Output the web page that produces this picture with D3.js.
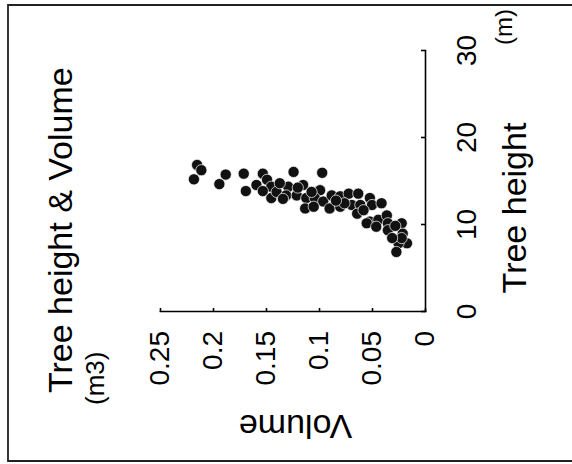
<!DOCTYPE html>
<html lang="en">
<head>
    <meta charset="UTF-8">
    <title>Tree height & Volume</title>
    <script src="https://d3js.org/d3.v7.min.js" charset="utf-8"></script>
    <style>
        body { margin: 0; background: #fff; }
        svg { font-family: 'Liberation Sans', Arial, sans-serif; }
        .axis path, .axis line { stroke: #000; stroke-width: 1.6; }
        .axis text { font-size: 28px; fill: #000; }
    </style>
</head>
<body>
    <div id="chart"></div>
    <script>
    // tree height (m) and volume (m3)
    var heights = [16.9, 16.3, 15.25, 15.8, 14.7, 15.9, 13.9, 15.9, 14.6, 15.2,
                   14.4, 13.1, 13.8, 16.1, 16.0, 14.4, 13.4, 14.6, 13.4, 13.1,
                   11.9, 14.0, 13.1, 12.7, 13.4, 11.9, 13.3, 12.1, 13.6, 13.6,
                   12.3, 12.3, 11.3, 13.1, 12.3, 12.5, 10.4, 10.6, 11.1, 10.2,
                   9.4, 10.2, 9.0, 7.9, 7.9, 6.9, 8.5, 13.9, 14.8, 13.0,
                   14.3, 13.8, 12.1, 12.5, 12.8, 10.2, 9.8, 11.7, 8.5, 9.9];
    var volumes = [0.215, 0.211, 0.218, 0.188, 0.194, 0.171, 0.169, 0.153, 0.159, 0.149,
                   0.145, 0.145, 0.140, 0.124, 0.097, 0.129, 0.131, 0.115, 0.121, 0.112,
                   0.113, 0.099, 0.104, 0.096, 0.088, 0.090, 0.080, 0.080, 0.072, 0.063,
                   0.069, 0.061, 0.064, 0.052, 0.050, 0.041, 0.052, 0.044, 0.036, 0.035,
                   0.035, 0.022, 0.021, 0.017, 0.025, 0.027, 0.022, 0.153, 0.137, 0.134,
                   0.120, 0.107, 0.105, 0.076, 0.084, 0.055, 0.046, 0.058, 0.031, 0.028];
    var heightTicks = [0, 10, 20, 30];
    var volumeTicks = [0, 0.05, 0.1, 0.15, 0.2, 0.25];

    var svgwidth = 572;
    var svgheight = 464;
    var inner_width = 261;   // tree height direction (before turning)
    var inner_height = 265;  // volume direction

    var points = heights.map((h, i) => ({ h: h, v: volumes[i] }));

    var svg = d3.select('#chart')
                .append('svg')
                .attr('width', svgwidth)
                .attr('height', svgheight);

    // scanned page frame
    svg.append('path')
        .attr('d', 'M 590 5 L 8 5 L 8 461 L 590 461')
        .attr('fill', 'none')
        .attr('stroke', '#222')
        .attr('stroke-width', 1.8);

    // the whole chart sits on the page turned a quarter to the left
    var g = svg.append('g')
        .attr('transform', 'translate(160, 312) rotate(-90)');

    var x_scale = d3.scaleLinear()
                    .domain([0, 30])
                    .range([0, inner_width]);

    var y_scale = d3.scaleLinear()
                    .domain([0, 0.25])
                    .range([inner_height, 0]);

    g.append('g')
        .attr('class', 'axis')
        .attr('transform', `translate(0, ${inner_height})`)
        .call(d3.axisBottom(x_scale).tickValues(heightTicks)
              .tickSizeInner(-4).tickSizeOuter(0).tickPadding(31));

    g.append('g')
        .attr('class', 'axis')
        .call(d3.axisLeft(y_scale).tickValues(volumeTicks)
              .tickFormat(d => d === 0 ? '0' : String(+d.toFixed(2)))
              .tickSizeInner(-4).tickSizeOuter(0).tickPadding(19));

    g.selectAll('.axis .domain').attr('stroke-linecap', 'square');

    g.append('g')
        .selectAll('circle')
        .data(points)
        .enter()
        .append('circle')
        .attr('cx', d => x_scale(d.h))
        .attr('cy', d => y_scale(d.v))
        .attr('r', 5.6)
        .attr('fill', '#111')
        .attr('stroke', '#fff')
        .attr('stroke-width', 0.7);

    // titles
    g.append('text')
        .attr('x', -81)
        .attr('y', -88)
        .style('font-size', '34px')
        .text('Tree height & Volume');

    g.append('text')
        .attr('x', -93)
        .attr('y', -56)
        .style('font-size', '26px')
        .text('(m3)');

    g.append('text')
        .attr('x', 104)
        .attr('y', 366)
        .attr('text-anchor', 'middle')
        .style('font-size', '34px')
        .text('Tree height');

    g.append('text')
        .attr('x', 285)
        .attr('y', 352)
        .attr('text-anchor', 'middle')
        .style('font-size', '24px')
        .text('(m)');

    g.append('text')
        .attr('transform', `translate(-103, ${inner_height / 2 + 3}) rotate(-90)`)
        .attr('text-anchor', 'middle')
        .style('font-size', '34px')
        .text('Volume');
    </script>
</body>
</html>
